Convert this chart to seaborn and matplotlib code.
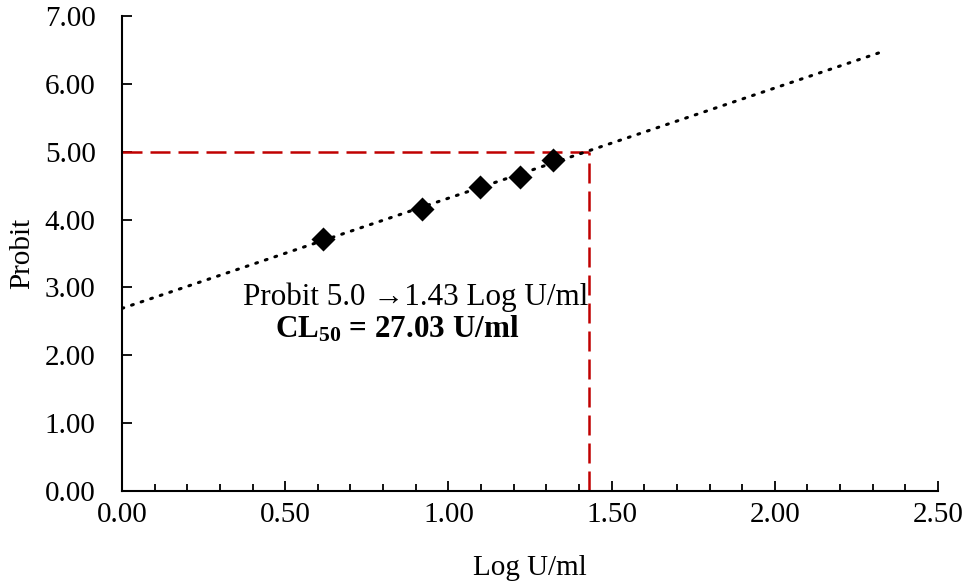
import matplotlib
matplotlib.use("Agg")
import matplotlib.pyplot as plt
from matplotlib.ticker import MultipleLocator
import numpy as np
import pandas as pd
import seaborn as sns

# data
log_dose = [0.617, 0.918, 1.097, 1.219, 1.319]
probit = [3.71, 4.16, 4.48, 4.62, 4.88]
fit_range = [0.0, 2.32]
target_probit = 5.0
cl50 = 27.03
x_ticks = [0.0, 0.5, 1.0, 1.5, 2.0, 2.5]
y_ticks = [0, 1, 2, 3, 4, 5, 6, 7]

sns.set_theme(style="ticks")
plt.rcParams["font.family"] = ["Liberation Serif", "DejaVu Serif"]
plt.rcParams["mathtext.fontset"] = "custom"
plt.rcParams["mathtext.rm"] = "Liberation Serif"
plt.rcParams["mathtext.bf"] = "Liberation Serif:bold"
for key in ["text.color", "axes.labelcolor", "xtick.color", "ytick.color"]:
    plt.rcParams[key] = "black"

FS = 21
FS_NOTE = 22.4

df = pd.DataFrame({"log": log_dose, "probit": probit})
slope, intercept = np.polyfit(df["log"], df["probit"], 1)
fit = pd.DataFrame({"log": fit_range})
fit["probit"] = intercept + slope * fit["log"]
x50 = np.log10(cl50)

fig = plt.figure(figsize=(9.66, 5.81), dpi=100)
ax = fig.add_axes([0.1263, 0.1549, 0.971 - 0.1263, 0.9725 - 0.1549])

# red guide lines to probit 5
red = "#C00000"
ax.plot([0, x50], [target_probit, target_probit], color=red, lw=1.8,
        dashes=(8, 3.2), zorder=2)
ax.plot([x50, x50], [0, target_probit], color=red, lw=1.8,
        dashes=(8, 3.2), zorder=2)

sns.lineplot(data=fit, x="log", y="probit", ax=ax, color="black", lw=2.2,
             linestyle=(0, (0.6, 2.7)), dash_capstyle="round", zorder=3)
sns.scatterplot(data=df, x="log", y="probit", ax=ax, marker="D", s=150,
                color="black", edgecolor="black", linewidth=0, zorder=4)

ax.text(0.90, 2.86, "Probit 5.0 \u2192" + f"{x50:.2f} Log U/ml",
        ha="center", va="center", fontsize=FS_NOTE)
ax.text(0.843, 2.38, r"$\mathbf{CL_{50}}$" + f" = {cl50:.2f} U/ml",
        ha="center", va="center", fontsize=FS_NOTE, fontweight="bold")

ax.set_xlim(0, 2.5)
ax.set_ylim(0, 7)
ax.set_xticks(x_ticks)
ax.set_yticks(y_ticks)
ax.set_xticklabels([f"{v:.2f}" for v in x_ticks])
ax.set_yticklabels([f"{v:.2f}" for v in y_ticks])
ax.xaxis.set_minor_locator(MultipleLocator(0.1))
ax.tick_params(axis="x", which="major", direction="in", length=7, width=1.3,
               pad=8, labelsize=FS)
ax.tick_params(axis="x", which="minor", direction="in", length=5, width=1.3)
ax.tick_params(axis="y", which="major", direction="in", length=7, width=1.3,
               pad=19, labelsize=FS)

ax.set_xlabel("Log U/ml", fontsize=FS, labelpad=19)
ax.set_ylabel("Probit", fontsize=FS, labelpad=7)

for side in ["top", "right"]:
    ax.spines[side].set_visible(False)
for side in ["left", "bottom"]:
    ax.spines[side].set_linewidth(1.5)
    ax.spines[side].set_color("black")

fig.savefig("out.png", dpi=100)
